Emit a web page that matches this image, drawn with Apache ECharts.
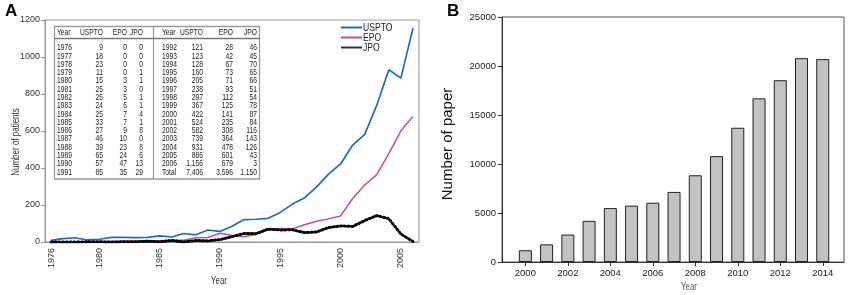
<!DOCTYPE html>
<html><head><meta charset="utf-8">
<script src="https://cdn.jsdelivr.net/npm/echarts@6/dist/echarts.min.js"></script>
<style>html,body{margin:0;padding:0;background:#fff}#c{width:850px;height:295px}</style>
</head><body><div id="c"></div>
<script>
// ---- Panel A data (patents) ----
const patentYears = ['1976','1977','1978','1979','1980','1981','1982','1983','1984','1985','1986','1987','1988','1989','1990','1991',
  '1992','1993','1994','1995','1996','1997','1998','1999','2000','2001','2002','2003','2004','2005','2006'];
const usptoValues = [9,18,23,11,15,25,25,24,25,33,27,46,39,65,57,85,121,123,128,160,205,238,297,367,422,524,582,739,931,886,1156];
const epoValues   = [0,0,0,0,3,3,5,6,7,7,9,10,23,24,47,35,28,42,67,73,71,93,112,125,141,235,308,364,478,601,679];
const jpoValues   = [0,0,0,1,1,0,1,1,4,1,8,0,8,6,13,29,46,45,70,65,66,51,54,78,87,84,116,143,126,43,3];
const patentLabelYears = ['1976','1980','1985','1990','1995','2000','2005'];
const seriesNames = ['USPTO','EPO','JPO'];
const jpoSolidUntil = '2004';

// ---- Panel B data (papers) ----
const paperYears  = [2000,2001,2002,2003,2004,2005,2006,2007,2008,2009,2010,2011,2012,2013,2014];
const paperCounts = [1200,1800,2800,4200,5500,5750,6050,7150,8850,10800,13700,16700,18550,20800,20700];
const paperLabelYears = [2000,2002,2004,2006,2008,2010,2012,2014];

const ARIAL = "'Liberation Sans',Arial,Helvetica,sans-serif";
const colors = {USPTO:'#1d6cc3', EPO:'#c24aa9', JPO:'#0a0a0a', JPOkey:'#1e3a24'};

const fmt = n => n.toLocaleString('en-US');
const sum = a => a.reduce((s, v) => s + v, 0);

// ---- table graphic built from the data arrays ----
const g = [];
g.push({type:'rect', shape:{x:54.5,y:26.5,width:205,height:152.5}, style:{fill:'#fff', stroke:'#9a9a9a', lineWidth:1.3}, z:10});
g.push({type:'line', shape:{x1:153.5,y1:26.5,x2:153.5,y2:179}, style:{stroke:'#9a9a9a', lineWidth:1.2}, z:11});
g.push({type:'line', shape:{x1:55,y1:38.5,x2:259.5,y2:38.5}, style:{stroke:'#777', lineWidth:1.6}, z:11});
const colsL = [{x:57,a:'left'},{x:103,a:'right'},{x:127,a:'right'},{x:143,a:'right'}];
const colsR = [{x:162,a:'left'},{x:203,a:'right'},{x:233,a:'right'},{x:257,a:'right'}];
const hdr = ['Year','USPTO','EPO','JPO'];
function ntext(t, x, y, a, size, fill) {
  g.push({type:'text', x:x, y:y, scaleX:0.78, z:12,
    style:{text:t, fontSize:size, fontFamily:ARIAL, fill:fill, align:a, verticalAlign:'middle'}});
}
function txt(t, c, y) { ntext(t, c.x, y, c.a, 8.6, '#222'); }
hdr.forEach((h, i) => { txt(h, colsL[i], 32.5); txt(h, colsR[i], 32.5); });
const rowY0 = 48, rowDy = 8.28;
for (let i = 0; i < 16; i++) {
  const y = rowY0 + i * rowDy;
  [patentYears[i], fmt(usptoValues[i]), fmt(epoValues[i]), fmt(jpoValues[i])].forEach((t, k) => txt(t, colsL[k], y));
}
for (let i = 16; i < patentYears.length; i++) {
  const y = rowY0 + (i - 16) * rowDy;
  [patentYears[i], fmt(usptoValues[i]), fmt(epoValues[i]), fmt(jpoValues[i])].forEach((t, k) => txt(t, colsR[k], y));
}
{
  const y = rowY0 + 15 * rowDy;
  ['Total', fmt(sum(usptoValues)), fmt(sum(epoValues)), fmt(sum(jpoValues))].forEach((t, k) => txt(t, colsR[k], y));
}
// legend of panel A
seriesNames.forEach((n, i) => {
  const y = 27.5 + i * 10;
  g.push({type:'line', shape:{x1:341, y1:y, x2:362, y2:y}, style:{stroke: n === 'JPO' ? colors.JPOkey : colors[n], lineWidth:2}});
  ntext(n, 363, y, 'left', 11, '#222');
});
// panel letters and axis names
g.push({type:'text', x:5, y:3, style:{text:'A', fontSize:17, fontWeight:'bold', fontFamily:ARIAL, fill:'#000'}});
g.push({type:'text', x:447, y:3, style:{text:'B', fontSize:17, fontWeight:'bold', fontFamily:ARIAL, fill:'#000'}});
g.push({type:'text', x:16, y:142, rotation:Math.PI/2, scaleX:0.8,
  style:{text:'Number of patients', fontSize:10, fontFamily:ARIAL, fill:'#333', align:'center', verticalAlign:'middle'}});
ntext('Year', 219, 281, 'center', 10, '#333');
g.push({type:'text', x:448, y:144, rotation:Math.PI/2,
  style:{text:'Number of paper', fontSize:15, fontFamily:ARIAL, fill:'#111', align:'center', verticalAlign:'middle'}});
ntext('Year', 689, 287, 'center', 10, '#555');

const solidIdx = patentYears.indexOf(jpoSolidUntil);
const jpoSolid = jpoValues.map((v, i) => i <= solidIdx ? v : null);

const chart = echarts.init(document.getElementById('c'), null, {renderer:'canvas'});
chart.setOption({
  animation: false,
  backgroundColor: '#fff',
  grid: [
    {left:45, top:20, width:374, height:222, show:true, borderColor:'#9a9a9a', borderWidth:1},
    {left:502, top:17, width:342, height:245, show:true, borderColor:'#555', borderWidth:1}
  ],
  xAxis: [
    {type:'category', gridIndex:0, data:patentYears, boundaryGap:true,
     axisLine:{lineStyle:{color:'#9a9a9a'}},
     axisTick:{alignWithLabel:true, interval:0, length:3, lineStyle:{color:'#9a9a9a'}},
     axisLabel:{interval:(i, v) => patentLabelYears.includes(v), rotate:90, margin:6, fontSize:9, fontFamily:ARIAL, color:'#333'},
     splitLine:{show:false}},
    {type:'value', gridIndex:1, min:1998.9, max:2015,
     axisLine:{lineStyle:{color:'#333'}},
     axisTick:{customValues:paperLabelYears, length:4, lineStyle:{color:'#333'}},
     axisLabel:{customValues:paperLabelYears, formatter:v => String(v), fontSize:9.5, fontFamily:ARIAL, color:'#222', margin:6},
     splitLine:{show:false}}
  ],
  yAxis: [
    {type:'value', gridIndex:0, min:0, max:1200, interval:200,
     axisLine:{show:true, lineStyle:{color:'#9a9a9a'}},
     axisTick:{show:true, length:4, lineStyle:{color:'#9a9a9a'}},
     axisLabel:{formatter:v => String(v), fontSize:9, fontFamily:ARIAL, color:'#333', margin:5},
     splitLine:{show:false}},
    {type:'value', gridIndex:1, min:0, max:25000, interval:5000,
     axisLine:{show:true, lineStyle:{color:'#333'}},
     axisTick:{show:true, length:4, lineStyle:{color:'#333'}},
     axisLabel:{formatter:v => String(v), fontSize:9.5, fontFamily:ARIAL, color:'#222', margin:6},
     splitLine:{show:false}}
  ],
  graphic: g,
  series: [
    {name:'USPTO', type:'line', xAxisIndex:0, yAxisIndex:0, data:usptoValues, symbol:'none',
     lineStyle:{color:colors.USPTO, width:1.7}},
    {name:'EPO', type:'line', xAxisIndex:0, yAxisIndex:0, data:epoValues, symbol:'none',
     lineStyle:{color:colors.EPO, width:1.5}},
    {name:'JPO', type:'line', xAxisIndex:0, yAxisIndex:0, data:jpoSolid, symbol:'none', connectNulls:false,
     lineStyle:{color:colors.JPO, width:1.8}},
    {name:'JPO beads', type:'line', xAxisIndex:0, yAxisIndex:0, data:jpoValues, symbol:'none',
     lineStyle:{color:colors.JPO, width:3, type:[1.2,2.6], cap:'round'}},
    {name:'Papers', type:'bar', xAxisIndex:1, yAxisIndex:1, barWidth:13,
     data:paperYears.map((y, i) => [y, paperCounts[i]]),
     itemStyle:{color:'#c2c2c2', borderColor:'#222', borderWidth:1}}
  ]
});
</script></body></html>
